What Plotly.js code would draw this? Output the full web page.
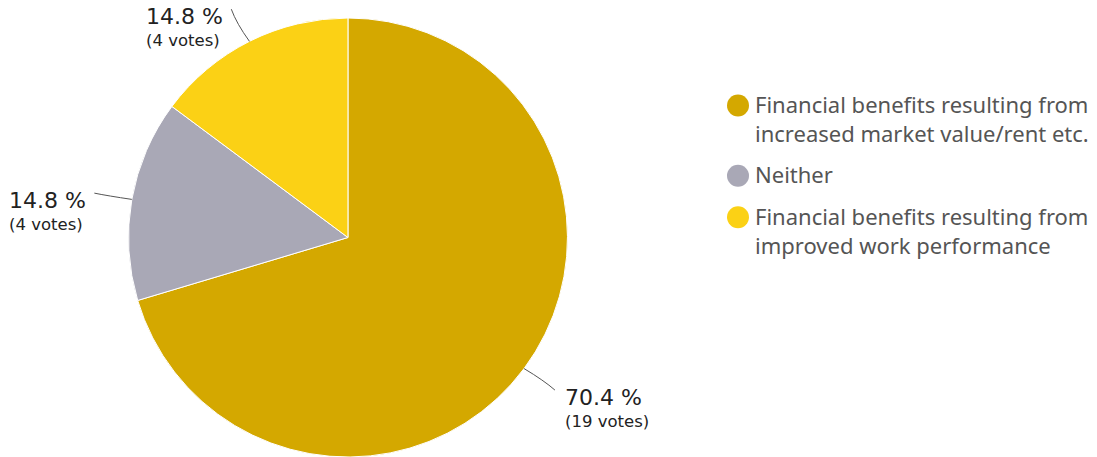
<!DOCTYPE html>
<html><head><meta charset="utf-8">
<script src="https://cdn.plot.ly/plotly-3.0.1.min.js"></script>
<style>html,body{margin:0;padding:0;background:#fff;}#chart{width:1097px;height:457px;}</style>
</head><body><div id="chart"></div>
<script>
// ---- data ----
const categories = [
  "Financial benefits resulting from<br>increased market value/rent etc.",
  "Neither",
  "Financial benefits resulting from<br>improved work performance"
];
const votes = [19, 4, 4];
const colors = ["#D4A800", "#A9A8B6", "#FBD115"];

// ---- layout constants ----
const W = 1097, H = 457;
const domX = [0.1171, 0.5173];
const domY = [0.0, 0.9606];
const cx = (domX[0] + domX[1]) / 2 * W;
const cy = (1 - (domY[0] + domY[1]) / 2) * H;
const r = Math.min((domX[1] - domX[0]) * W, (domY[1] - domY[0]) * H) / 2;
const total = votes.reduce((a, b) => a + b, 0);
const px2x = p => p / W, px2y = p => 1 - p / H;

const traces = [{
  type: "pie",
  labels: categories,
  values: votes,
  marker: { colors: colors, line: { color: "#ffffff", width: 1 } },
  sort: false,
  direction: "clockwise",
  rotation: 0,
  textinfo: "none",
  hoverinfo: "label+percent",
  showlegend: false,
  domain: { x: domX, y: domY }
}];

const shapes = [], annotations = [];
let cum = 0;
votes.forEach((v, i) => {
  const mid = (cum + v / 2) / total * 2 * Math.PI;
  cum += v;
  const sx = Math.sin(mid), sy = -Math.cos(mid);
  const px = cx + r * sx, py = cy + r * sy;
  const qx = cx + (r + 36) * sx, qy = cy + (r + 36) * sy;
  const right = sx >= 0;
  const mx = cx + (r + 20) * sx + (right ? 4 : -4), my = cy + (r + 20) * sy;
  shapes.push({
    type: "path", xref: "paper", yref: "paper",
    path: `M${px2x(px)},${px2y(py)} Q${px2x(mx)},${px2y(my)} ${px2x(qx + (right ? 2 : -2))},${px2y(qy)}`,
    line: { color: "#555555", width: 1 }
  });
  const pct = (v / total * 100).toFixed(1) + " %";
  annotations.push({
    xref: "paper", yref: "paper",
    x: px2x(right ? qx + 10 : qx - 8), y: px2y(qy + 7),
    xanchor: right ? "left" : "right", yanchor: "middle",
    showarrow: false, text: pct,
    font: { family: "DejaVu Sans", size: 22, color: "#222222" }
  });
  annotations.push({
    xref: "paper", yref: "paper",
    x: px2x(right ? qx + 10 : qx - 11), y: px2y(qy + 31),
    xanchor: right ? "left" : "right", yanchor: "middle",
    showarrow: false, text: "(" + v + " votes)",
    font: { family: "DejaVu Sans", size: 16.5, color: "#222222" }
  });
});

// ---- legend (drawn with shapes + annotations) ----
const legFont = 22, legLine = legFont * 1.3, legGap = 13;
let ly = 104;
categories.forEach((c, i) => {
  const n = c.split("<br>").length;
  shapes.push({
    type: "circle", xref: "paper", yref: "paper",
    xsizemode: "pixel", ysizemode: "pixel",
    xanchor: px2x(738), yanchor: px2y(ly + 1.5),
    x0: -11, x1: 11, y0: -11, y1: 11,
    fillcolor: colors[i], line: { width: 0 }
  });
  annotations.push({
    xref: "paper", yref: "paper",
    x: px2x(753), y: px2y(ly + (n - 1) * legLine / 2),
    xanchor: "left", yanchor: "middle", align: "left",
    showarrow: false, text: c,
    font: { family: "Noto Sans", size: legFont, color: "#555555" }
  });
  ly += n * legLine + legGap;
});

const layout = {
  width: W, height: H,
  margin: { l: 0, r: 0, t: 0, b: 0 },
  paper_bgcolor: "#ffffff", plot_bgcolor: "#ffffff",
  showlegend: false,
  shapes: shapes,
  annotations: annotations
};
Plotly.newPlot("chart", traces, layout, { displayModeBar: false, staticPlot: true });
</script></body></html>
